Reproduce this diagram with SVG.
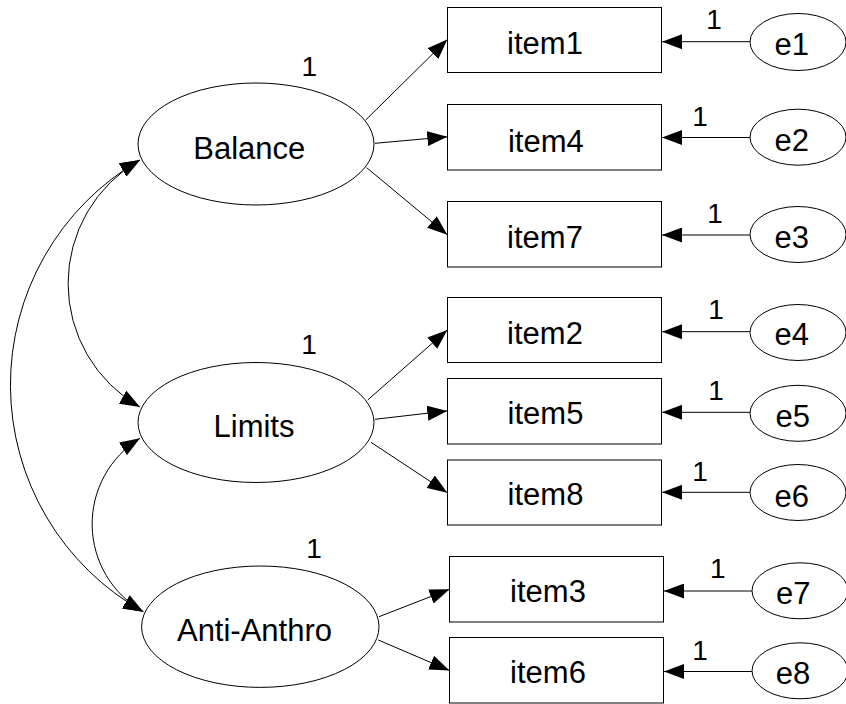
<svg xmlns="http://www.w3.org/2000/svg" width="846" height="704" viewBox="0 0 846 704">
<style>
.node{fill:#fff;stroke:#000;stroke-width:1}
.t{font-family:"Liberation Sans",Arial,sans-serif;font-size:31px;fill:#000;text-anchor:middle}
.w{font-family:"Liberation Sans",Arial,sans-serif;font-size:28px;fill:#000;text-anchor:middle}
.c{fill:none;stroke:#000;stroke-width:1}
.a{marker-end:url(#ah)}
.b{marker-start:url(#ah);marker-end:url(#ah)}
</style>
<defs>
<marker id="ah" markerUnits="userSpaceOnUse" markerWidth="20" markerHeight="15" refX="20" refY="7.5" orient="auto-start-reverse" viewBox="0 0 20 15">
<path d="M0,0 L20,7.5 L0,15 z" fill="#000"/>
</marker>
</defs>
<rect width="846" height="704" fill="#fff"/>
<g id="connectors">
<path class="c a" d="M365.7,120 L447.3,39.5"/>
<path class="c a" d="M375,143.3 L447.3,136.8"/>
<path class="c a" d="M366.7,167.7 L447.3,234.7"/>
<path class="c a" d="M367.7,400 L447.3,330"/>
<path class="c a" d="M375,419.3 L447.3,410.9"/>
<path class="c a" d="M371,442.3 L447.3,492.7"/>
<path class="c a" d="M379,616.7 L449.5,589.3"/>
<path class="c a" d="M378.3,640 L449.5,670.5"/>
<path class="c a" d="M750,41.7 L662,41.7"/>
<path class="c a" d="M750,137.5 L662,137.5"/>
<path class="c a" d="M750,235 L662,235"/>
<path class="c a" d="M750,331.7 L662,331.7"/>
<path class="c a" d="M750,412.3 L662,412.3"/>
<path class="c a" d="M750,492.3 L662,492.3"/>
<path class="c a" d="M752,591 L664,591"/>
<path class="c a" d="M752,671.5 L664,671.5"/>
<path class="c b" d="M140,160 A142,142 0 0 0 140,407"/>
<path class="c b" d="M140,160 A260,260 0 0 0 143.3,611.7"/>
<path class="c b" d="M140,438.3 A100.7,100.7 0 0 0 143.3,611.7"/>
<text class="w" x="309.3" y="76">1</text>
<text class="w" x="309" y="354.3">1</text>
<text class="w" x="314" y="558.3">1</text>
<text class="w" x="714" y="29.3">1</text>
<text class="w" x="700" y="126">1</text>
<text class="w" x="715" y="223">1</text>
<text class="w" x="716" y="319.3">1</text>
<text class="w" x="716" y="400">1</text>
<text class="w" x="700" y="481">1</text>
<text class="w" x="717.7" y="577.7">1</text>
<text class="w" x="700" y="660">1</text>
</g>
<g id="Balance"><ellipse class="node" cx="256" cy="144" rx="118" ry="61"/><text class="t" x="249.3" y="159">Balance</text></g>
<g id="Limits"><ellipse class="node" cx="256" cy="422.5" rx="118" ry="60"/><text class="t" x="254" y="437.3">Limits</text></g>
<g id="AntiAnthro"><ellipse class="node" cx="260.3" cy="626.7" rx="118.7" ry="60.7"/><text class="t" x="254.5" y="641">Anti-Anthro</text></g>
<g id="item1"><rect class="node" x="447.5" y="7.5" width="214" height="65"/><text class="t" x="545" y="54">item1</text></g>
<g id="item4"><rect class="node" x="447.5" y="104.5" width="214" height="65.5"/><text class="t" x="545.8" y="151.7">item4</text></g>
<g id="item7"><rect class="node" x="447.5" y="201.5" width="214" height="65.5"/><text class="t" x="545" y="248.3">item7</text></g>
<g id="item2"><rect class="node" x="447.5" y="297.5" width="214" height="65"/><text class="t" x="545" y="344.3">item2</text></g>
<g id="item5"><rect class="node" x="447.5" y="378.5" width="214" height="65.5"/><text class="t" x="545.5" y="424">item5</text></g>
<g id="item8"><rect class="node" x="447.5" y="460" width="214" height="65"/><text class="t" x="545.5" y="505">item8</text></g>
<g id="item3"><rect class="node" x="449.5" y="556.5" width="214" height="65.5"/><text class="t" x="548" y="601.7">item3</text></g>
<g id="item6"><rect class="node" x="449.5" y="637.5" width="214" height="65.5"/><text class="t" x="548" y="683.3">item6</text></g>
<g id="e1"><ellipse class="node" cx="798" cy="42" rx="48" ry="28.5"/><text class="t" x="791.7" y="55">e1</text></g>
<g id="e2"><ellipse class="node" cx="798" cy="137.2" rx="48" ry="28"/><text class="t" x="791.7" y="150.7">e2</text></g>
<g id="e3"><ellipse class="node" cx="798" cy="234.5" rx="48" ry="28"/><text class="t" x="791.7" y="248.3">e3</text></g>
<g id="e4"><ellipse class="node" cx="798" cy="332.5" rx="48" ry="28"/><text class="t" x="791.7" y="345">e4</text></g>
<g id="e5"><ellipse class="node" cx="798" cy="413.3" rx="48" ry="28"/><text class="t" x="792.7" y="426.7">e5</text></g>
<g id="e6"><ellipse class="node" cx="798" cy="492.5" rx="48" ry="28"/><text class="t" x="791.7" y="506.7">e6</text></g>
<g id="e7"><ellipse class="node" cx="800" cy="590.8" rx="48" ry="28"/><text class="t" x="793.3" y="604.3">e7</text></g>
<g id="e8"><ellipse class="node" cx="800" cy="670.8" rx="48" ry="28"/><text class="t" x="793" y="684">e8</text></g>
</svg>
